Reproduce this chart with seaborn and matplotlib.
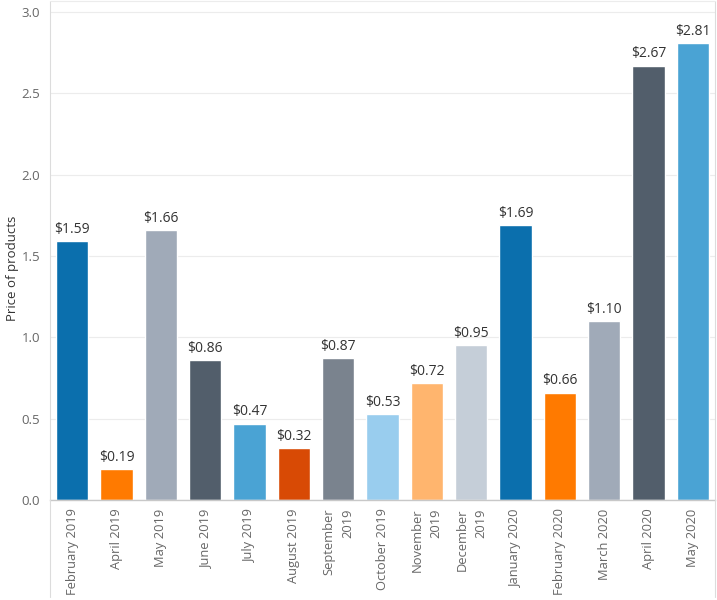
import matplotlib
matplotlib.use("Agg")
import matplotlib.pyplot as plt
import seaborn as sns
import pandas as pd
from matplotlib.lines import Line2D

months = ["February 2019", "April 2019", "May 2019", "June 2019", "July 2019",
          "August 2019", "September\n2019", "October 2019", "November\n2019",
          "December\n2019", "January 2020", "February 2020", "March 2020",
          "April 2020", "May 2020"]
prices = [1.59, 0.19, 1.66, 0.86, 0.47, 0.32, 0.87, 0.53, 0.72, 0.95,
          1.69, 0.66, 1.10, 2.67, 2.81]
colors = ["#0b6fad", "#ff7a00", "#a0aab8", "#525e6b", "#4aa3d4", "#d84a05",
          "#7a838e", "#99cdee", "#ffb56e", "#c5ced8", "#0b6fad", "#ff7a00",
          "#a0aab8", "#525e6b", "#4aa3d4"]
yticks = [0.0, 0.5, 1.0, 1.5, 2.0, 2.5, 3.0]

df = pd.DataFrame({"month": months, "price": prices})

sns.set_theme(style="white")
plt.rcParams["font.family"] = ["Open Sans", "DejaVu Sans"]

fig = plt.figure(figsize=(7.17, 6), dpi=100)
ax = fig.add_axes([50 / 717, 100 / 600, 665 / 717, 499 / 600])

sns.barplot(data=df, x="month", y="price", hue="month", palette=colors,
            order=months, hue_order=months, legend=False, width=0.73,
            saturation=1, ax=ax)

for cont in ax.containers:
    ax.bar_label(cont, labels=[f"${v:.2f}" for v in cont.datavalues],
                 padding=3, fontsize=10, color="#333333")

ax.set_xlim(-0.5, len(months) - 0.5)
ax.set_ylim(0, 3.067)
ax.set_yticks(yticks)
ax.set_yticklabels([f"{t:.1f}" for t in yticks])
ax.yaxis.grid(True, color="#ececec", linewidth=0.8)
ax.set_axisbelow(True)
ax.tick_params(axis="y", colors="#666666", labelsize=9.5, length=0, pad=7)
ax.tick_params(axis="x", colors="#666666", labelsize=9.3, length=0, pad=6)
for lbl in ax.get_xticklabels():
    lbl.set_rotation(90)
    lbl.set_ha("center")
    lbl.set_va("top")
    lbl.set_multialignment("right")
    lbl.set_linespacing(1.55)

ax.set_xlabel("")
ax.set_ylabel("Price of products", fontsize=9.5, color="#333333")
ax.yaxis.set_label_coords(-0.047, 0.465)

for side in ["top", "right", "left"]:
    ax.spines[side].set_visible(False)
ax.spines["bottom"].set_color("#c8c8c8")
ax.spines["bottom"].set_linewidth(1.0)

# outer frame lines (as in the original layout)
fig.add_artist(Line2D([50 / 717, 50 / 717], [3 / 600, 599 / 600], color="#dcdcdc", lw=0.8))
fig.add_artist(Line2D([715 / 717, 715 / 717], [3 / 600, 599 / 600], color="#dcdcdc", lw=0.8))
fig.add_artist(Line2D([50 / 717, 715 / 717], [599 / 600, 599 / 600], color="#ececec", lw=0.8))

fig.savefig("out.png", dpi=100)
